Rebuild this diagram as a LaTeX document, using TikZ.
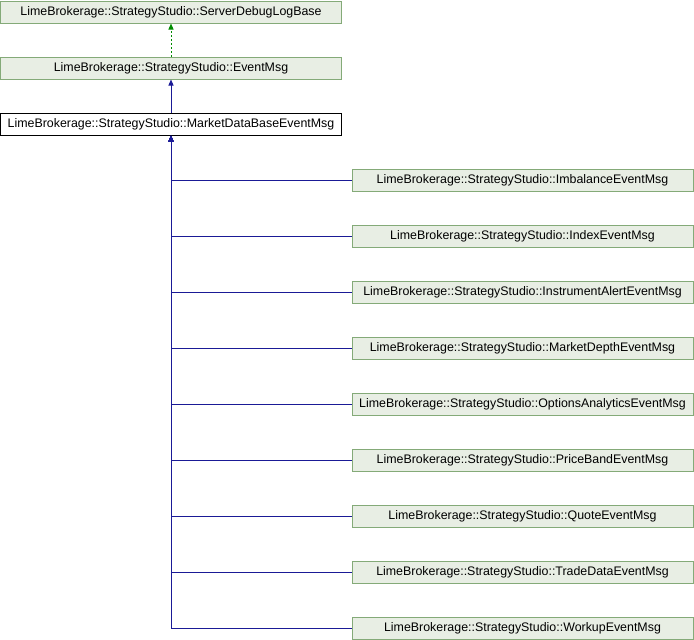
\documentclass[tikz,border=0pt]{standalone}
\usepackage{fontspec}
\setmainfont{Liberation Sans}
\usetikzlibrary{arrows.meta}
\definecolor{boxfill}{RGB}{232,238,228}
\definecolor{boxedge}{RGB}{132,170,120}
\definecolor{inhblue}{RGB}{26,26,150}
\definecolor{inhgreen}{RGB}{0,140,0}
\tikzset{
  cls/.style={draw=boxedge, fill=boxfill, line width=1pt, minimum width=341pt, minimum height=22pt, inner sep=0pt, font=\fontsize{12.4}{14}\selectfont},
  curcls/.style={cls, draw=black, fill=white},
  inh/.style={draw=inhblue, line width=1pt, -{Triangle[width=5pt,length=6pt]}},
  tmpl/.style={draw=inhgreen, line width=1pt, dash pattern=on 2pt off 2pt, -{Triangle[width=5pt,length=6pt,fill=inhgreen]}}
}
\begin{document}
\begin{tikzpicture}[x=1pt,y=-1pt]
\useasboundingbox (0,0) rectangle (694,640);
\node[cls] (sdlb) at (171,12) {LimeBrokerage::StrategyStudio::ServerDebugLogBase};
\node[cls] (em) at (171,68) {LimeBrokerage::StrategyStudio::EventMsg};
\node[curcls] (mdb) at (171,124) {LimeBrokerage::StrategyStudio::MarketDataBaseEventMsg};
\node[cls] (c1) at (522.5,180.5) {LimeBrokerage::StrategyStudio::ImbalanceEventMsg};
\node[cls] (c2) at (522.5,236.5) {LimeBrokerage::StrategyStudio::IndexEventMsg};
\node[cls] (c3) at (522.5,292.5) {LimeBrokerage::StrategyStudio::InstrumentAlertEventMsg};
\node[cls] (c4) at (522.5,348.5) {LimeBrokerage::StrategyStudio::MarketDepthEventMsg};
\node[cls] (c5) at (522.5,404.5) {LimeBrokerage::StrategyStudio::OptionsAnalyticsEventMsg};
\node[cls] (c6) at (522.5,460.5) {LimeBrokerage::StrategyStudio::PriceBandEventMsg};
\node[cls] (c7) at (522.5,516.5) {LimeBrokerage::StrategyStudio::QuoteEventMsg};
\node[cls] (c8) at (522.5,572.5) {LimeBrokerage::StrategyStudio::TradeDataEventMsg};
\node[cls] (c9) at (522.5,628) {LimeBrokerage::StrategyStudio::WorkupEventMsg};
\draw[tmpl] (em.north) -- (sdlb.south);
\draw[inh] (mdb.north) -- (em.south);
\foreach \c in {c1,c2,c3,c4,c5,c6,c7,c8,c9}{
  \draw[inh] (\c.west) -| (mdb.south);
}
\end{tikzpicture}
\end{document}
